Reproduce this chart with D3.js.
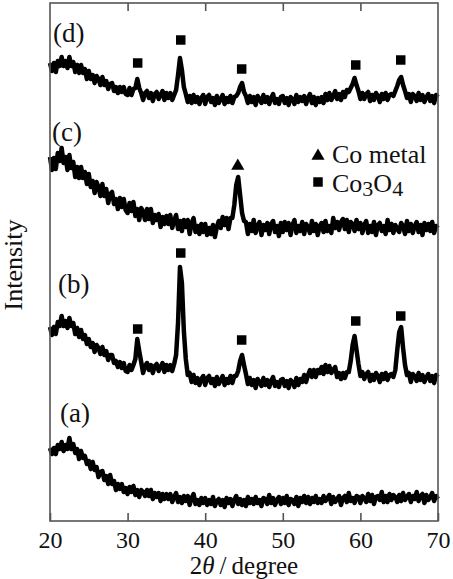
<!DOCTYPE html>
<html>
<head>
  <title>XRD patterns</title>
  <script src="https://cdn.jsdelivr.net/npm/d3@7"></script>
  <style>
    body { margin: 0; background: #fff; }
    svg text { font-family: "Liberation Serif", Tinos, "Times New Roman", Times, "DejaVu Serif", serif; fill: #111; }
    .trace { fill: none; stroke: #000; stroke-linejoin: round; }
    .band { stroke-width: 4.5; }
    .fine { stroke-width: 1.4; stroke-linejoin: miter; }
    .frame { fill: none; stroke: #555; stroke-width: 1.6; }
    .axis path { display: none; }
    .axis line { stroke: #555; stroke-width: 1.6; }
  </style>
</head>
<body>
<div id="chart"></div>
<script>
// scan: 20-70 deg, 0.25 deg step (201 points per pattern)
const scanStart = 20, scanStep = 0.25;

// intensities (a.u.), each pattern on its own baseline
const seriesA = [
  73,67,73,67,76,72,79,70,76,72,83,72,77,68,72,62,70,63,65,57,
  60,52,59,51,54,44,49,50,41,45,37,46,37,40,31,37,32,37,29,33,
  27,34,29,35,26,31,24,31,29,25,31,25,31,22,28,24,28,20,27,22,
  27,22,27,19,24,28,19,24,18,25,20,25,16,23,27,17,21,16,23,18,
  23,16,21,17,24,15,20,22,16,21,14,23,18,22,15,21,25,17,22,16,
  21,15,24,18,22,17,24,18,21,15,23,22,17,26,18,23,16,21,24,17,
  23,18,25,16,22,21,17,24,15,23,19,25,18,24,17,23,19,25,18,22,
  18,25,20,23,26,17,24,19,22,25,16,23,25,19,28,20,23,18,25,24,
  18,25,23,19,27,20,26,17,24,25,21,29,19,25,19,27,21,26,24,19,
  26,20,28,21,24,27,19,25,22,29,20,25,27,18,26,21,24,28,20,25,22
];
const seriesB = [
  74,66,74,67,79,75,85,75,80,73,83,75,78,67,73,64,71,62,66,57,
  62,54,58,49,56,53,47,54,46,50,41,46,46,38,40,34,39,33,38,30,
  29,36,31,36,42,62,50,39,28,35,38,31,36,28,35,37,30,34,38,29,
  36,31,36,30,37,46,78,134,118,70,42,26,28,19,26,18,23,16,22,25,
  16,23,25,18,22,15,24,17,21,25,16,22,18,25,18,25,25,30,40,46,
  36,27,17,23,16,21,13,22,19,15,23,16,21,14,20,24,15,19,14,21,
  22,15,20,13,21,19,14,23,16,22,19,26,19,26,31,24,31,24,31,28,
  34,27,36,29,35,28,31,34,24,28,22,28,23,29,29,40,56,65,51,37,
  25,29,22,27,29,20,26,21,28,25,19,27,22,28,21,26,27,24,31,51,
  69,74,53,36,26,28,19,27,25,20,28,21,26,19,24,27,20,25,18,26,24
];
const seriesC = [
  84,71,83,72,88,80,93,78,84,71,86,73,79,64,74,63,74,63,69,57,
  67,54,60,48,59,54,45,57,45,52,38,47,49,37,42,32,43,34,42,31,
  28,38,30,39,25,32,21,33,29,21,32,22,32,18,26,21,27,14,24,17,
  25,17,26,13,20,26,12,20,10,21,14,21,7,18,23,9,15,7,17,9,
  17,6,13,7,16,4,14,20,13,24,16,23,12,23,23,36,56,64,46,28,
  20,19,7,17,10,21,8,15,19,6,16,11,18,7,17,20,9,15,5,18,
  9,19,11,18,6,16,21,8,15,10,19,7,17,14,8,20,10,17,6,15,
  18,9,20,10,15,8,23,13,19,11,19,22,12,21,9,19,17,10,21,12,
  18,8,16,20,8,15,9,19,6,16,18,10,15,7,21,11,17,8,16,12,
  9,18,15,7,20,10,17,8,15,19,9,16,6,18,11,17,10,19,8,15,13
];
const seriesD = [
  48,40,48,39,50,45,54,45,50,43,54,45,49,39,46,38,46,38,42,32,
  40,32,36,28,35,32,26,34,26,30,22,27,28,20,24,18,24,19,24,17,
  16,23,16,22,23,32,23,18,11,18,20,13,18,10,17,19,12,16,20,11,
  18,13,18,11,16,21,36,53,41,24,17,9,15,8,16,9,14,7,13,16,
  7,14,16,9,13,6,15,8,12,16,7,13,9,15,8,14,15,18,24,28,
  19,15,8,15,9,14,6,15,12,8,16,9,14,7,13,17,8,12,7,14,
  15,8,13,6,14,12,7,16,9,14,10,15,7,13,17,8,14,6,13,9,
  14,8,17,11,18,11,15,20,12,17,11,19,14,21,19,23,27,33,26,20,
  12,18,12,17,19,10,16,11,18,15,9,17,12,18,11,16,17,15,20,25,
  31,34,26,20,13,17,9,17,15,10,18,11,16,9,14,17,10,15,8,16,14
];
const patternNames = ["(a)", "(b)", "(c)", "(d)"];
const patternOffsets = [0, 120, 280, 410];

// peak markers
const co3o4Peaks = [31.3, 36.85, 44.7, 59.4, 65.2];
const co3o4MarkB = [72, 148, 61, 80, 85];
const co3o4MarkD = [48, 71, 42, 46, 51];
const coMetalPeaks = [44.2];
const coMetalMarkC = [75];

const xTicks = [20, 30, 40, 50, 60, 70];
const topTicks = [30, 40, 50, 60];

const W = 453, H = 579;
const margin = {top: 3, right: 15, bottom: 58, left: 50};

const svg = d3.select("#chart").append("svg")
  .attr("width", W).attr("height", H);

const x = d3.scaleLinear().domain([20, 70]).range([margin.left, W - margin.right]);
const y = d3.scaleLinear().domain([0, 518]).range([H - margin.bottom, margin.top]);

const patterns = [seriesA, seriesB, seriesC, seriesD];

const line = d3.line()
  .x((d, i) => x(scanStart + i * scanStep));

patterns.forEach((vals, k) => {
  const yk = d => y(d + patternOffsets[k]);
  svg.append("path")
    .datum(vals)
    .attr("class", "trace band")
    .attr("d", line.y(yk));
  svg.append("path")
    .datum(vals)
    .attr("class", "trace fine")
    .attr("d", line.y(yk));
});

// markers
const sq = d3.symbol().type(d3.symbolSquare).size(90);
const tri = d3.symbol().type(d3.symbolTriangle).size(75);

[[co3o4MarkB, 1], [co3o4MarkD, 3]].forEach(([marks, k]) => {
  svg.selectAll(null).data(co3o4Peaks).enter().append("path")
    .attr("d", sq)
    .attr("fill", "#000")
    .attr("transform", (d, i) => `translate(${x(d)},${y(marks[i] + patternOffsets[k])})`);
});
svg.selectAll(null).data(coMetalPeaks).enter().append("path")
  .attr("d", tri)
  .attr("fill", "#000")
  .attr("transform", (d, i) => `translate(${x(d)},${y(coMetalMarkC[i] + patternOffsets[2])})`);

// frame + axes
svg.append("rect").attr("class", "frame")
  .attr("x", margin.left).attr("y", margin.top)
  .attr("width", W - margin.left - margin.right)
  .attr("height", H - margin.bottom - margin.top);

const xAxis = svg.append("g").attr("class", "axis")
  .attr("transform", `translate(0,${H - margin.bottom})`)
  .call(d3.axisBottom(x).tickValues(xTicks).tickSizeInner(-8).tickSizeOuter(0));
xAxis.attr("font-family", null);
xAxis.selectAll("text")
  .attr("y", 27).attr("dy", 0)
  .style("font-size", "24px");

svg.append("g").attr("class", "axis")
  .attr("transform", `translate(0,${margin.top})`)
  .call(d3.axisTop(x).tickValues(topTicks).tickSizeInner(-8).tickSizeOuter(0).tickFormat(""));

// axis titles
const xt = svg.append("text")
  .attr("x", (x(20) + x(70)) / 2).attr("y", 574)
  .attr("text-anchor", "middle")
  .style("font-size", "25px");
xt.append("tspan").text("2");
xt.append("tspan").style("font-style", "italic").text("θ");
xt.append("tspan").text("\u2009/\u2009degree");

svg.append("text")
  .attr("transform", "translate(22,265) rotate(-90)")
  .attr("text-anchor", "middle")
  .style("font-size", "26px")
  .text("Intensity");

// pattern labels
const labelPos = [[60, 422], [58, 293], [52, 141], [53, 42]];
patternNames.forEach((n, k) => {
  svg.append("text")
    .attr("x", labelPos[k][0]).attr("y", labelPos[k][1])
    .style("font-size", "27px")
    .text(n);
});

// legend
svg.append("path").attr("d", tri).attr("fill", "#000")
  .attr("transform", "translate(318,156)");
svg.append("text").attr("x", 332).attr("y", 163)
  .style("font-size", "26px").text("Co metal");
svg.append("path").attr("d", sq).attr("fill", "#000")
  .attr("transform", "translate(318,182)");
const lg = svg.append("text").attr("x", 332).attr("y", 192)
  .style("font-size", "26px");
lg.append("tspan").text("Co");
lg.append("tspan").attr("dy", 4).style("font-size", "22px").text("3");
lg.append("tspan").attr("dy", -4).text("O");
lg.append("tspan").attr("dy", 4).style("font-size", "22px").text("4");
</script>
</body>
</html>
